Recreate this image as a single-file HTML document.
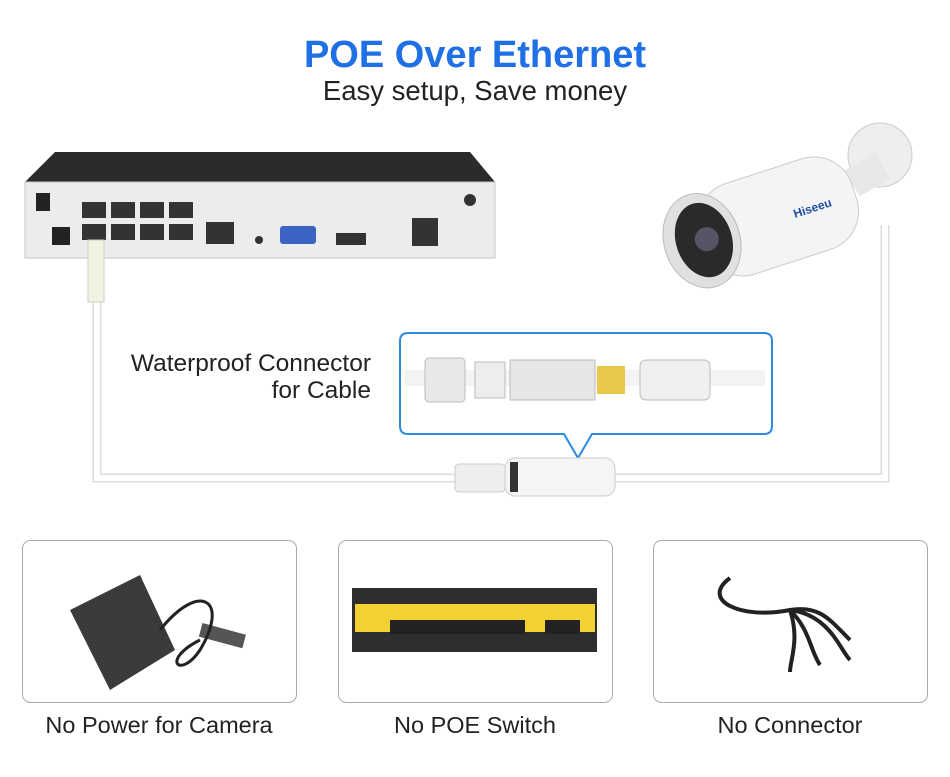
<!DOCTYPE html>
<html><head><meta charset="utf-8"><style>
body{margin:0;width:950px;height:772px;background:#fff;overflow:hidden;font-family:"Liberation Sans",sans-serif}
</style></head><body>
<svg width="950" height="772" viewBox="0 0 950 772" xmlns="http://www.w3.org/2000/svg" font-family="Liberation Sans, sans-serif">
<text x="475" y="67" text-anchor="middle" font-size="38" font-weight="bold" fill="#1f6fe5">POE Over Ethernet</text>
<text x="475" y="100" text-anchor="middle" font-size="27.5" fill="#222">Easy setup, Save money</text>

<!-- cable -->
<path d="M97 300 V478 H885 V225" fill="none" stroke="#dedede" stroke-width="9"/>
<path d="M97 300 V478 H885 V225" fill="none" stroke="#fff" stroke-width="6"/>

<!-- NVR -->
<polygon points="55,152 470,152 495,182 25,182" fill="#2b2b2b"/>
<rect x="25" y="182" width="470" height="76" fill="#ececec" stroke="#c4c4c4"/>
<rect x="36" y="193" width="14" height="18" fill="#222"/>
<rect x="52" y="227" width="18" height="18" fill="#222"/>
<g fill="#333">
<rect x="82" y="202" width="24" height="16"/><rect x="111" y="202" width="24" height="16"/><rect x="140" y="202" width="24" height="16"/><rect x="169" y="202" width="24" height="16"/>
<rect x="82" y="224" width="24" height="16"/><rect x="111" y="224" width="24" height="16"/><rect x="140" y="224" width="24" height="16"/><rect x="169" y="224" width="24" height="16"/>
<rect x="206" y="222" width="28" height="22"/>
<rect x="336" y="233" width="30" height="12"/>
<rect x="412" y="218" width="26" height="28"/>
</g>
<circle cx="259" cy="240" r="4" fill="#333"/>
<rect x="280" y="226" width="36" height="18" rx="3" fill="#3a63c4"/>
<circle cx="470" cy="200" r="6" fill="#333"/>
<rect x="88" y="240" width="16" height="62" fill="#f2f2e0" stroke="#ccc"/>

<!-- camera -->
<ellipse cx="880" cy="155" rx="32" ry="32" fill="#eee" stroke="#ccc"/>
<rect x="850" y="160" width="35" height="30" fill="#e8e8e8" transform="rotate(-30 867 175)"/>
<g transform="rotate(-18 760 225)">
<rect x="700" y="175" width="160" height="95" rx="40" fill="#f4f4f4" stroke="#ccc"/>
<ellipse cx="700" cy="222" rx="38" ry="48" fill="#e0e0e0" stroke="#bbb"/>
<ellipse cx="702" cy="222" rx="28" ry="38" fill="#2a2a2a"/>
<circle cx="705" cy="222" r="12" fill="#556"/>
</g>
<text x="795" y="218" font-size="12" font-weight="bold" fill="#1e4fa0" transform="rotate(-18 795 218)">Hiseeu</text>

<!-- callout -->
<text x="371" y="371" text-anchor="end" font-size="24.5" fill="#222">Waterproof Connector</text>
<text x="371" y="398" text-anchor="end" font-size="24.5" fill="#222">for Cable</text>
<path d="M408 333 H764 Q772 333 772 341 V426 Q772 434 764 434 H592 L578 458 L564 434 H408 Q400 434 400 426 V341 Q400 333 408 333 Z" fill="#fff" stroke="#2c8be0" stroke-width="2"/>
<rect x="405" y="370" width="360" height="16" fill="#f3f3f3"/>
<rect x="425" y="358" width="40" height="44" rx="4" fill="#e8e8e8" stroke="#bbb"/>
<rect x="475" y="362" width="30" height="36" fill="#eee" stroke="#bbb"/>
<rect x="510" y="360" width="85" height="40" fill="#e6e6e6" stroke="#bbb"/>
<rect x="597" y="366" width="28" height="28" fill="#e8c84a"/>
<rect x="640" y="360" width="70" height="40" rx="6" fill="#f0f0f0" stroke="#bbb"/>
<!-- connector on cable -->
<rect x="455" y="464" width="50" height="28" rx="4" fill="#eee" stroke="#ccc"/>
<rect x="505" y="458" width="110" height="38" rx="10" fill="#f5f5f5" stroke="#ccc"/>
<rect x="510" y="462" width="8" height="30" fill="#333"/>

<!-- bottom boxes -->
<g fill="#fff" stroke="#aaa" stroke-width="1">
<rect x="22.5" y="540.5" width="274" height="162" rx="8"/>
<rect x="338.5" y="540.5" width="274" height="162" rx="8"/>
<rect x="653.5" y="540.5" width="274" height="162" rx="8"/>
</g>
<!-- adapter -->
<polygon points="70,610 140,575 175,650 110,690" fill="#3a3a3a"/>
<rect x="200" y="628" width="45" height="14" fill="#555" transform="rotate(15 220 635)"/>
<path d="M160 630 C200 580 230 600 200 650 C180 680 160 660 200 640" fill="none" stroke="#222" stroke-width="3"/>
<!-- switch -->
<rect x="352" y="588" width="245" height="64" fill="#2e2e2e"/>
<rect x="355" y="604" width="240" height="28" fill="#f2d230"/>
<g fill="#222"><rect x="390" y="620" width="135" height="14"/><rect x="545" y="620" width="35" height="14"/></g>
<!-- splitter -->
<path d="M730 578 C700 600 740 620 790 610 C820 605 830 620 850 640 M790 610 C810 630 810 650 820 665 M790 610 C800 640 790 660 790 672 M790 610 C830 615 840 650 850 660" fill="none" stroke="#222" stroke-width="4"/>

<text x="159" y="733" text-anchor="middle" font-size="23.5" fill="#222">No Power for Camera</text>
<text x="475" y="733" text-anchor="middle" font-size="23.5" fill="#222">No POE Switch</text>
<text x="790" y="733" text-anchor="middle" font-size="23.5" fill="#222">No Connector</text>
</svg>
</body></html>
